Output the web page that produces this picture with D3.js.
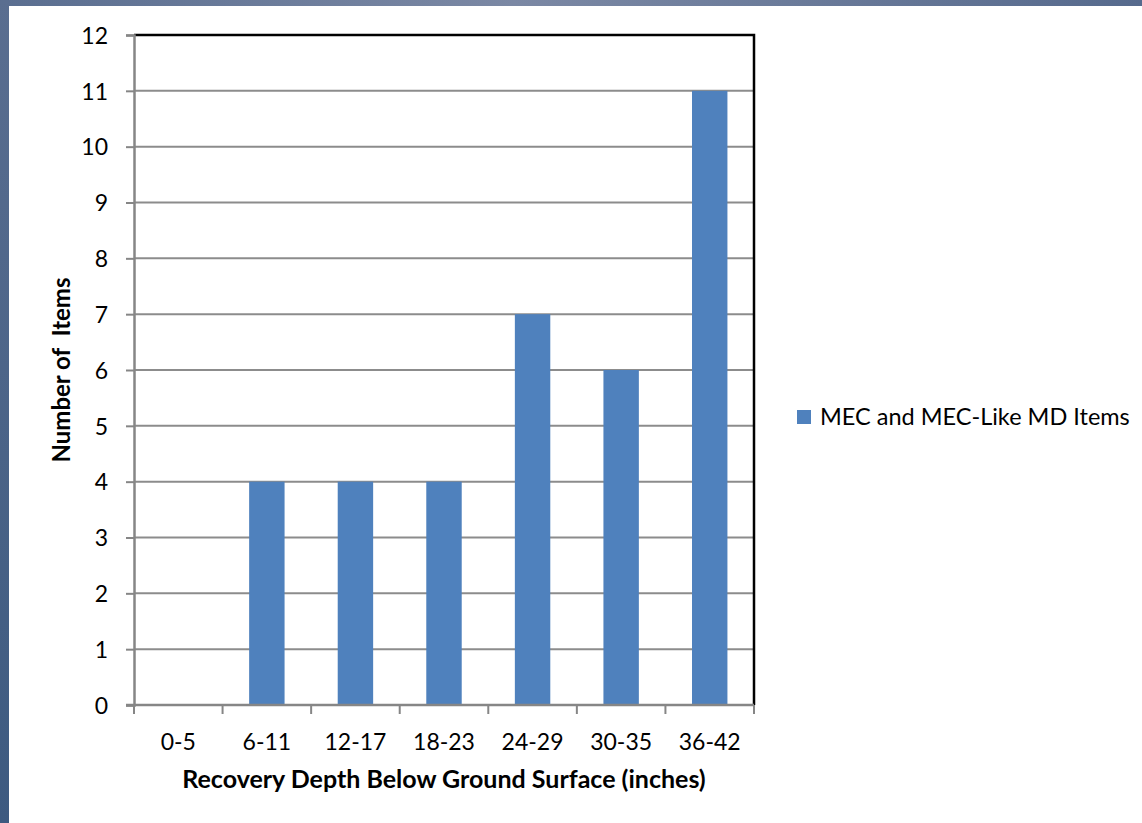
<!DOCTYPE html>
<html>
<head>
<meta charset="utf-8">
<script src="https://cdn.jsdelivr.net/npm/d3@7"></script>
<style>
  html, body { margin: 0; padding: 0; }
  body { width: 1142px; height: 823px; overflow: hidden; }
  text { font-family: Lato, "Open Sans", "Liberation Sans", sans-serif; fill: #000; }
</style>
</head>
<body>
<svg id="chart" width="1142" height="823"></svg>
<script>
// chart data
var categories = ["0-5", "6-11", "12-17", "18-23", "24-29", "30-35", "36-42"];
var counts = [0, 4, 4, 4, 7, 6, 11];
var yTicks = [0, 1, 2, 3, 4, 5, 6, 7, 8, 9, 10, 11, 12];
var seriesName = "MEC and MEC-Like MD Items";

var svg = d3.select("#chart");
var width = 1142, height = 823;
var plotL = 134, plotT = 35, plotR = 754, plotB = 705;

// slide frame behind the chart
var defs = svg.append("defs");
var grad = defs.append("linearGradient").attr("id", "frame").attr("x1", 0).attr("x2", 1).attr("y1", 0).attr("y2", 0);
grad.append("stop").attr("offset", "0%").attr("stop-color", "#5a6e90");
grad.append("stop").attr("offset", "45%").attr("stop-color", "#7b88a4");
grad.append("stop").attr("offset", "100%").attr("stop-color", "#566a8d");
var gradV = defs.append("linearGradient").attr("id", "frameV").attr("x1", 0).attr("x2", 0).attr("y1", 0).attr("y2", 1);
gradV.append("stop").attr("offset", "0%").attr("stop-color", "#5a6e90");
gradV.append("stop").attr("offset", "100%").attr("stop-color", "#3d5a80");

svg.append("rect").attr("x", 0).attr("y", 0).attr("width", width).attr("height", 6).attr("fill", "url(#frame)");
svg.append("rect").attr("x", 0).attr("y", 0).attr("width", 9).attr("height", height).attr("fill", "url(#frameV)");
svg.append("rect").attr("x", 9).attr("y", 6).attr("width", width - 9).attr("height", height - 6).attr("fill", "#fff");

var x = d3.scaleBand().domain(categories).range([plotL, plotR]).paddingInner(0.6).paddingOuter(0.3);
var xOuter = d3.scaleBand().domain(categories).range([plotL, plotR]);
var y = d3.scaleLinear().domain([0, 12]).range([plotB, plotT]);

// gridlines
svg.append("g").selectAll("line").data(yTicks.filter(function(d) { return d > 0; }))
    .enter().append("line")
    .attr("x1", plotL).attr("x2", plotR)
    .attr("y1", function(d) { return y(d); })
    .attr("y2", function(d) { return y(d); })
    .attr("stroke", "#8c8c8c").attr("stroke-width", 2);

// bars
svg.append("g").selectAll("rect").data(counts)
    .enter().append("rect")
    .attr("x", function(d, i) { return x(categories[i]); })
    .attr("y", function(d) { return y(d); })
    .attr("width", x.bandwidth())
    .attr("height", function(d) { return plotB - y(d); })
    .attr("fill", "#4f81bd");

// plot border top and right
svg.append("path")
    .attr("d", "M" + plotL + "," + plotT + "H" + plotR + "V" + plotB)
    .attr("fill", "none").attr("stroke", "#000").attr("stroke-width", 2.5);

// y axis
var yAxis = svg.append("g").attr("transform", "translate(" + plotL + ",0)")
    .call(d3.axisLeft(y).tickValues(yTicks).tickSize(8).tickPadding(18).tickFormat(d3.format("d")));
yAxis.select(".domain").attr("stroke", "#868686").attr("stroke-width", 2.5);
yAxis.selectAll(".tick line").attr("stroke", "#868686").attr("stroke-width", 2);
yAxis.selectAll(".tick text").style("font-size", "23px").attr("dy", "0.36em");

// x axis with ticks at band edges
var xAxis = svg.append("g").attr("transform", "translate(0," + plotB + ")");
xAxis.append("line").attr("x1", plotL - 8).attr("x2", plotR).attr("y1", 0).attr("y2", 0)
    .attr("stroke", "#868686").attr("stroke-width", 2.5);
var edges = categories.map(function(c) { return xOuter(c); }).concat([plotR]);
xAxis.selectAll("line.tk").data(edges).enter().append("line").attr("class", "tk")
    .attr("x1", function(d) { return d; }).attr("x2", function(d) { return d; })
    .attr("y1", 0).attr("y2", 9)
    .attr("stroke", "#868686").attr("stroke-width", 2);
xAxis.selectAll("text").data(categories).enter().append("text")
    .attr("x", function(d) { return xOuter(d) + xOuter.bandwidth() / 2; })
    .attr("y", 45)
    .attr("text-anchor", "middle")
    .style("font-size", "23px")
    .text(function(d) { return d; });

// axis titles
svg.append("text")
    .attr("x", (plotL + plotR) / 2).attr("y", 788)
    .attr("text-anchor", "middle")
    .style("font-size", "25px").style("font-weight", "bold")
    .text("Recovery Depth Below Ground Surface (inches)");
svg.append("text")
    .attr("transform", "translate(70," + 370 + ") rotate(-90)")
    .attr("text-anchor", "middle")
    .style("font-size", "24px").style("font-weight", "bold")
    .style("white-space", "pre")
    .text("Number of  Items");

// legend
var legend = svg.append("g").attr("transform", "translate(797,410)");
legend.append("rect").attr("width", 14).attr("height", 14).attr("fill", "#4f81bd");
legend.append("text").attr("x", 23).attr("y", 7).attr("dy", "0.35em")
    .style("font-size", "23.5px").text(seriesName);
</script>
</body>
</html>
